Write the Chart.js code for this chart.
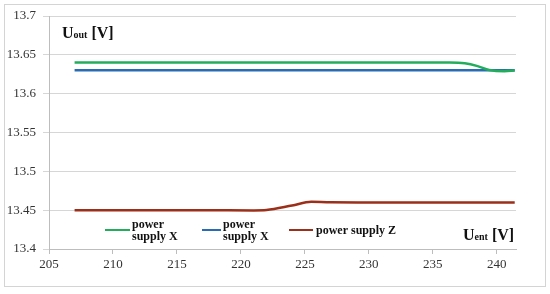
<!DOCTYPE html>
<html>
<head>
<meta charset="utf-8">
<script src="https://cdn.jsdelivr.net/npm/chart.js@4/dist/chart.umd.min.js"></script>
<style>
  html, body { margin: 0; padding: 0; background: #fff; }
  #wrap { width: 550px; height: 294px; }
</style>
</head>
<body>
<div id="wrap"><canvas id="chart"></canvas></div>
<script>
// input voltage (Uent) points
const uent = [207, 212, 217, 221, 222, 224, 225.5, 227, 230, 234, 236.3, 237.5, 238.5, 239.4, 240.6, 241.4];
// output voltage per power supply
const supplyX1 = [13.64, 13.64, 13.64, 13.64, 13.64, 13.64, 13.64, 13.64, 13.64, 13.64, 13.6402, 13.6392, 13.6355, 13.6305, 13.6288, 13.6298];
const supplyX2 = [13.63, 13.63, 13.63, 13.63, 13.63, 13.63, 13.63, 13.63, 13.63, 13.63, 13.63, 13.63, 13.63, 13.63, 13.63, 13.63];
const supplyZ  = [13.45, 13.45, 13.45, 13.4497, 13.4502, 13.456, 13.4607, 13.4601, 13.46, 13.46, 13.46, 13.46, 13.46, 13.46, 13.46, 13.46];
const xTicks = [205, 210, 215, 220, 225, 230, 235, 240];
const yTicks = [13.4, 13.45, 13.5, 13.55, 13.6, 13.65, 13.7];

const labels = ["power supply X", "power supply X", "power supply Z"];
const colors = ["#22ad5c", "#2a6cb3", "#9b2f19"];

function pts(ys) {
  return uent.map((x, i) => ({ x: x, y: ys[i] }));
}

const serif = "'Liberation Serif', 'DejaVu Serif', serif";

const decor = {
  id: "decor",
  beforeDraw(chart) {
    const ctx = chart.ctx;
    ctx.save();
    ctx.fillStyle = "#fff";
    ctx.fillRect(0, 0, chart.width, chart.height);
    ctx.strokeStyle = "#d4d4d4";
    ctx.lineWidth = 1;
    ctx.strokeRect(4.5, 4.5, 541, 282);
    ctx.restore();
  },
  afterDraw(chart) {
    const ctx = chart.ctx;
    const a = chart.chartArea;
    ctx.save();
    ctx.fillStyle = "#111";
    ctx.textBaseline = "alphabetic";
    // axis titles with subscripts
    function title(x, y, sub) {
      ctx.font = "bold 16px " + serif;
      ctx.fillText("U", x, y);
      let w = ctx.measureText("U").width;
      ctx.font = "bold 10px " + serif;
      ctx.fillText(sub, x + w, y);
      w += ctx.measureText(sub).width;
      ctx.font = "bold 16px " + serif;
      ctx.fillText(" [V]", x + w, y);
    }
    title(a.left + 13, a.top + 22, "out");
    title(a.left + 414, a.bottom - 9, "ent");

    // legend inside plot
    const ly = a.bottom - 19;
    const items = [
      { x0: a.left + 56, x1: a.left + 81, lines: ["power", "supply X"] },
      { x0: a.left + 153, x1: a.left + 172, lines: ["power", "supply X"] },
      { x0: a.left + 240, x1: a.left + 264, lines: ["power supply Z"] },
    ];
    items.forEach((it, i) => {
      ctx.strokeStyle = colors[i];
      ctx.lineWidth = 2;
      ctx.beginPath();
      ctx.moveTo(it.x0, ly);
      ctx.lineTo(it.x1, ly);
      ctx.stroke();
      ctx.font = "bold 12px " + serif;
      ctx.fillStyle = "#111";
      if (it.lines.length === 2) {
        ctx.fillText(it.lines[0], it.x1 + 2, ly - 2);
        ctx.fillText(it.lines[1], it.x1 + 2, ly + 10);
      } else {
        ctx.fillText(it.lines[0], it.x1 + 3, ly + 4);
      }
    });
    ctx.restore();
  },
};

new Chart(document.getElementById("chart"), {
  type: "line",
  data: {
    datasets: [
      { label: labels[0], data: pts(supplyX1), borderColor: colors[0] },
      { label: labels[1], data: pts(supplyX2), borderColor: colors[1] },
      { label: labels[2], data: pts(supplyZ), borderColor: colors[2] },
    ],
  },
  options: {
    responsive: true,
    maintainAspectRatio: false,
    animation: false,
    layout: { padding: { left: 0, right: 34, top: 16, bottom: 0 } },
    elements: {
      point: { radius: 0 },
      line: { borderWidth: 2.5, cubicInterpolationMode: "monotone" },
    },
    plugins: {
      legend: { display: false },
      tooltip: { enabled: false },
    },
    scales: {
      x: {
        type: "linear",
        min: 205,
        max: 241.5,
        afterBuildTicks(scale) {
          scale.ticks = xTicks.map((v) => ({ value: v }));
        },
        afterFit(scale) {
          scale.height = 45;
        },
        border: { color: "#bdbdbd" },
        grid: { drawOnChartArea: false, drawTicks: true, tickLength: 5, color: "#bdbdbd" },
        ticks: {
          color: "#333",
          font: { family: serif, size: 13 },
          padding: 3,
          maxRotation: 0,
        },
      },
      y: {
        min: 13.4,
        max: 13.7,
        afterBuildTicks(scale) {
          scale.ticks = yTicks.map((v) => ({ value: v }));
        },
        afterFit(scale) {
          scale.width = 49;
        },
        border: { color: "#bdbdbd" },
        grid: { color: "#d6d6d6", tickLength: 6 },
        ticks: {
          color: "#333",
          font: { family: serif, size: 13 },
          padding: 7,
          callback: (v) => String(Math.round(v * 100) / 100),
        },
      },
    },
  },
  plugins: [decor],
});
</script>
</body>
</html>
